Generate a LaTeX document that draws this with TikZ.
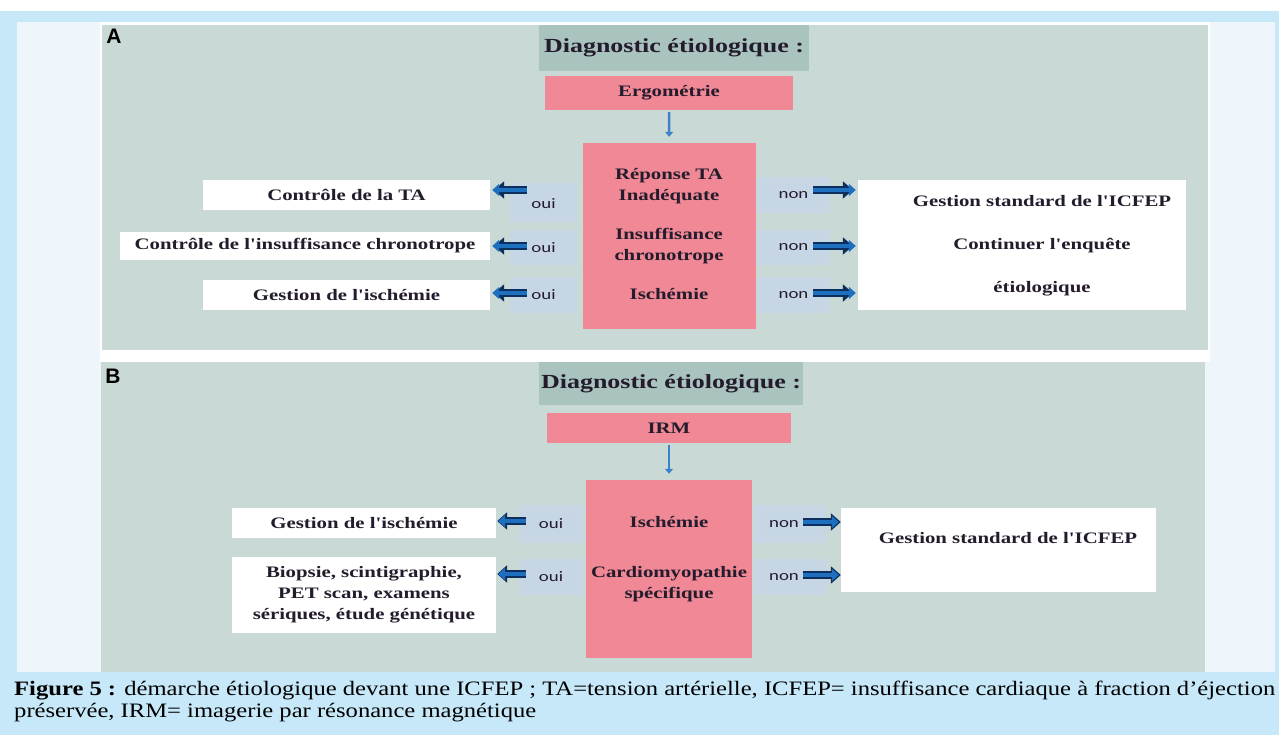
\documentclass[tikz,border=0pt]{standalone}
\usepackage{fontspec}
\usepackage{xcolor}
\usepackage{tikz}
\usetikzlibrary{arrows.meta, positioning}

\setmainfont{Liberation Serif}
\newfontfamily\boxfont[FakeStretch=1.3]{Liberation Serif}
\newfontfamily\tagfont[FakeStretch=1.3]{Carlito}
\newfontfamily\legfont[FakeStretch=1.2]{Liberation Serif}
\newfontfamily\panelfont{Liberation Sans}

\newcommand{\boxtext}{\boxfont\bfseries\fontsize{16}{21}\selectfont}
\newcommand{\titletext}{\boxfont\bfseries\fontsize{20}{24}\selectfont}
\newcommand{\tagtext}{\tagfont\fontsize{14.5}{16}\selectfont}

\definecolor{skyband}{HTML}{C7E8F8}
\definecolor{paleback}{HTML}{EEF6FC}
\definecolor{panelgrey}{HTML}{C9D9D6}
\definecolor{titlegrey}{HTML}{A9C3BF}
\definecolor{rosepink}{HTML}{F08896}
\definecolor{tagblue}{HTML}{C6D6E4}
\definecolor{arrowblue}{HTML}{1F6FBF}
\definecolor{arrowedge}{HTML}{0D2F5E}
\definecolor{arrowthin}{HTML}{3C82C8}
\definecolor{inkdark}{HTML}{241C2C}

\begin{document}
\begin{tikzpicture}[
    x=1pt, y=-1pt,
    every node/.style={inner sep=0pt, text=inkdark, align=center},
    boite/.style={fill=white, font=\boxtext},
    rose/.style={fill=rosepink, font=\boxtext},
    etiquette/.style={fill=tagblue, font=\tagtext},
    titre/.style={fill=titlegrey, font=\titletext},
    texte/.style={font=\boxtext},
    lettre/.style={font=\panelfont\bfseries\fontsize{21}{22}\selectfont, text=black},
    blocfleche/.style={draw=arrowedge, line width=8pt, -{Triangle[length=10pt, width=17pt]},
      postaction={draw=arrowblue, line width=4.5pt, shorten >=2pt, -{Triangle[length=7pt, width=12pt]}}},
    descente/.style={draw=arrowthin, line width=2.5pt, -{Triangle[length=5pt, width=8pt]}, shorten <=2pt, shorten >=6pt}
  ]
  \useasboundingbox (0,0) rectangle (1279,735);

  % fonds
  \fill[skyband] (0,11) rectangle (1279,735);
  \fill[paleback] (17,22) rectangle (1275,672);
  \fill[white] (100,22) rectangle (1210,362);
  \fill[panelgrey] (102,25) rectangle (1208,350);
  \fill[panelgrey] (101,362) rectangle (1205,672);

  % partie A
  \node[lettre] (lettreA) at (114,36) {A};
  \node[titre, minimum width=270pt, minimum height=46pt] (titreA) at (674,48) {Diagnostic étiologique :};
  \node[rose, minimum width=248pt, minimum height=34pt] (ergo) at (669,93) {Ergométrie};
  \node[rose, minimum width=173pt, minimum height=186pt] (centreA) at (669.5,236) {};
  \node[texte] (reponse) at (669,186) {Réponse TA\\Inadéquate};
  \node[texte] (chrono) at (669,246) {Insuffisance\\chronotrope};
  \node[texte] (ischA) at (669,294) {Ischémie};

  \node[boite, minimum width=287pt, minimum height=30pt] (ctlTA) at (346.5,195) {Contrôle de la TA};
  \node[boite, minimum width=370pt, minimum height=28pt] (ctlChrono) at (305,246) {Contrôle de l'insuffisance chronotrope};
  \node[boite, minimum width=287pt, minimum height=30pt] (gestA) at (346.5,295) {Gestion de l'ischémie};

  \node[etiquette, minimum width=67pt, minimum height=39pt, text depth=0pt] (ouiA1) at (543.5,202.5) {\raisebox{-3pt}{oui}};
  \node[etiquette, minimum width=67pt, minimum height=35pt] (ouiA2) at (543.5,247.5) {oui};
  \node[etiquette, minimum width=67pt, minimum height=36pt] (ouiA3) at (543.5,295) {oui};
  \node[etiquette, minimum width=73pt, minimum height=36pt] (nonA1) at (793.5,195) {non};
  \node[etiquette, minimum width=73pt, minimum height=35pt] (nonA2) at (793.5,247.5) {non};
  \node[etiquette, minimum width=73pt, minimum height=36pt] (nonA3) at (793.5,295) {non};

  \node[boite, minimum width=328pt, minimum height=130pt] (suiteA) at (1022,245) {};
  \node[texte] (suiteAtxt) at (1042,246) {Gestion standard de l'ICFEP\\[22pt]Continuer l'enquête\\[22pt]étiologique};

  \coordinate (queueA1) at (527,190);
  \coordinate (queueA2) at (527,246);
  \coordinate (queueA3) at (527,293);
  \coordinate (queueN1) at (813,190);
  \coordinate (queueN2) at (813,246);
  \coordinate (queueN3) at (813,293);

  \draw[descente] (ergo) -- (centreA);
  \draw[blocfleche, shorten >=4pt] (queueA1) -- (queueA1 -| ctlTA.east);
  \draw[blocfleche, shorten >=4pt] (queueA2) -- (queueA2 -| ctlChrono.east);
  \draw[blocfleche, shorten >=4pt] (queueA3) -- (queueA3 -| gestA.east);
  \draw[blocfleche, shorten >=5pt] (queueN1) -- (queueN1 -| suiteA.west);
  \draw[blocfleche, shorten >=5pt] (queueN2) -- (queueN2 -| suiteA.west);
  \draw[blocfleche, shorten >=5pt] (queueN3) -- (queueN3 -| suiteA.west);

  % partie B
  \node[lettre] (lettreB) at (113,376) {B};
  \node[titre, minimum width=264pt, minimum height=43pt] (titreB) at (671,383.5) {\raisebox{4pt}{Diagnostic étiologique :}};
  \node[rose, minimum width=244pt, minimum height=30pt] (irm) at (669,428) {IRM};
  \node[rose, minimum width=166pt, minimum height=178pt] (centreB) at (669,569) {};
  \node[texte] (ischB) at (669,522) {Ischémie};
  \node[texte] (cardio) at (669,584) {Cardiomyopathie\\spécifique};

  \node[boite, minimum width=264pt, minimum height=30pt] (gestB) at (364,523) {Gestion de l'ischémie};
  \node[boite, minimum width=264pt, minimum height=76pt] (biopsie) at (364,594.5) {Biopsie, scintigraphie,\\PET scan, examens\\sériques, étude génétique};

  \node[etiquette, minimum width=64pt, minimum height=38pt] (ouiB1) at (551,524) {oui};
  \node[etiquette, minimum width=64pt, minimum height=36pt] (ouiB2) at (551,577) {oui};
  \node[etiquette, minimum width=72pt, minimum height=38pt] (nonB1) at (790,524) {\makebox[0pt]{\hspace{-12pt}non}};
  \node[etiquette, minimum width=72pt, minimum height=36pt] (nonB2) at (790,577) {\makebox[0pt]{\hspace{-12pt}non}};

  \node[boite, minimum width=315pt, minimum height=84pt] (suiteB) at (998.5,550) {};
  \node[texte] (suiteBtxt) at (1008,538) {Gestion standard de l'ICFEP};

  \coordinate (queueB1) at (526,521);
  \coordinate (queueB2) at (526,574);
  \coordinate (queueM1) at (803,522);
  \coordinate (queueM2) at (803,575);

  \draw[descente] (irm) -- (centreB);
  \draw[blocfleche, shorten >=1pt] (queueB1) -- (queueB1 -| gestB.east);
  \draw[blocfleche, shorten >=1pt] (queueB2) -- (queueB2 -| biopsie.east);
  \draw[blocfleche] (queueM1) -- (queueM1 -| suiteB.west);
  \draw[blocfleche] (queueM2) -- (queueM2 -| suiteB.west);

  % legende
  \node[anchor=base west, font=\legfont\fontsize{20.5}{22}\selectfont, text=black] (legende1) at (14,695)
    {\makebox[1261pt][s]{\textbf{Figure 5 :} démarche étiologique devant une ICFEP ; TA=tension artérielle, ICFEP= insuffisance cardiaque à fraction d’éjection}};
  \node[anchor=base west, font=\legfont\fontsize{20.5}{22}\selectfont, text=black] (legende2) at (14,717)
    {préservée, IRM= imagerie par résonance magnétique};
\end{tikzpicture}
\end{document}
